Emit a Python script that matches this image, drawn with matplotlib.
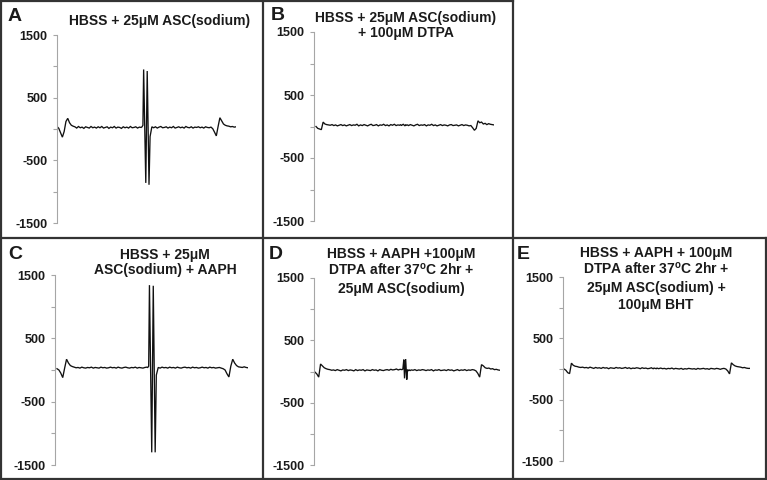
import matplotlib
matplotlib.use('Agg')
import matplotlib.pyplot as plt
from matplotlib.lines import Line2D

plt.rcParams['font.family'] = ['Liberation Sans', 'DejaVu Sans']
plt.rcParams['mathtext.fontset'] = 'custom'
plt.rcParams['mathtext.rm'] = 'Liberation Sans:bold'
plt.rcParams['mathtext.bf'] = 'Liberation Sans:bold'
plt.rcParams['mathtext.it'] = 'Liberation Sans:bold'

# ---------------- data (field position, % of sweep) ----------------
field = [
    0, 1, 2, 3, 4, 5, 6, 7, 8, 9,
    10, 11, 12, 13, 14, 15, 16, 17, 18, 19,
    20, 21, 22, 23, 24, 25, 26, 27, 28, 29,
    30, 31, 32, 33, 34, 35, 36, 37, 38, 39,
    40, 41, 42, 43, 44, 45, 46, 47,
    47.5, 48, 48.4, 49, 49.6, 50, 50.4, 50.9, 51.4,
    52, 53, 54, 55, 56, 57, 58, 59,
    60, 61, 62, 63, 64, 65, 66, 67, 68, 69,
    70, 71, 72, 73, 74, 75, 76, 77, 78, 79,
    80, 81, 82, 83, 84, 85, 86, 87, 88, 89,
    90, 91, 92, 93, 94, 95, 96, 97, 98, 99,
    100,
]

spec_A = [
    40, 10, -60, -130, -40, 120, 170, 100, 60, 45,
    35, 15, 40, 20, 30, 10, 35, 25, 15, 40,
    20, 30, 15, 35, 20, 40, 15, 25, 35, 10,
    30, 20, 40, 15, 30, 25, 10, 35, 20, 30,
    15, 40, 20, 25, 35, 15, 30, 25,
    35, 60, 950, 45, -860, 30, 925, 20, -890,
    -120, 35, 20, 35, 15, 30, 40, 20,
    25, 35, 15, 30, 20, 40, 15, 25, 35, 20,
    30, 15, 40, 25, 20, 35, 15, 30, 25, 35,
    20, 30, 15, 35, 25, 20, 30, 5, -50, -110,
    40, 180, 130, 80, 60, 50, 45, 35, 40, 30,
    35,
]

spec_B = [
    0, -30, -40, -50, 70, 40, 30, 25, 20, 30,
    15, 25, 10, 20, 30, 15, 25, 10, 20, 30,
    15, 25, 20, 35, 10, 25, 15, 30, 20, 10,
    25, 35, 15, 20, 30, 10, 25, 20, 35, 15,
    25, 10, 30, 20, 35, 15, 25, 20,
    30, 15, 25, 35, 20, 10, 30, 20, 25,
    15, 30, 20, 10, 25, 35, 15, 25,
    20, 30, 10, 25, 20, 35, 15, 25, 10, 20,
    30, 15, 25, 20, 10, 25, 30, 15, 20, 25,
    10, 20, 30, 15, 25, 20, 10, 15, -20, -60,
    -30, 90, 60, 70, 40, 50, 30, 45, 35, 30,
    25,
]

spec_C = [
    20, 0, -50, -120, 30, 170, 110, 70, 55, 45,
    35, 40, 30, 45, 35, 30, 40, 35, 45, 30,
    40, 35, 30, 45, 35, 40, 30, 35, 45, 35,
    40, 30, 45, 35, 30, 40, 45, 35, 30, 40,
    35, 45, 30, 40, 35, 30, 40, 45,
    40, 60, 1340, 20, -1300, 15, 1330, 20, -1300,
    -80, 40, 30, 45, 35, 40, 30, 45,
    35, 40, 30, 45, 35, 30, 40, 45, 35, 40,
    30, 45, 35, 40, 30, 35, 45, 35, 40, 30,
    45, 35, 40, 30, 35, 40, 30, 20, 0, -60,
    -110, 60, 170, 110, 70, 50, 45, 40, 50, 40,
    35,
]

spec_D = [
    -10, -40, -90, 120, 90, 60, 45, 35, 30, 20,
    25, 15, 30, 20, 10, 25, 20, 30, 15, 25,
    20, 10, 30, 15, 25, 20, 30, 10, 25, 20,
    15, 30, 20, 25, 10, 30, 20, 15, 25, 30,
    20, 35, 25, 30, 40, 25, 35, 30,
    40, 190, -110, 200, -130, 30, 10, 25, 15,
    25, 20, 30, 15, 25, 20, 30, 25,
    15, 25, 20, 30, 10, 25, 20, 30, 15, 20,
    25, 15, 30, 20, 25, 10, 20, 30, 15, 25,
    20, 30, 15, 25, 20, 30, 25, 10, -30, -90,
    110, 90, 60, 50, 55, 40, 45, 30, 35, 25,
    20,
]

spec_E = [
    0, -20, -60, -75, 95, 60, 45, 40, 30, 25,
    30, 20, 25, 15, 30, 20, 10, 25, 15, 20,
    10, 25, 15, 20, 5, 20, 15, 10, 25, 15,
    20, 10, 15, 25, 10, 20, 5, 15, 10, 20,
    15, 5, 20, 10, 15, 5, 10, 20,
    10, 5, 15, 10, 5, 15, 10, 5, 10,
    15, 5, 10, 0, 10, 5, 15, 0,
    10, 5, 0, 10, -5, 5, 0, 10, 5, 0,
    5, -5, 10, 0, 5, 10, 0, 5, -5, 10,
    5, 0, 10, 5, -5, 5, 10, 0, -30, -80,
    100, 70, 50, 40, 35, 30, 20, 25, 15, 10,
    10,
]

ytick_vals = [-1500, -1000, -500, 0, 500, 1000, 1500]
ytick_labels = ['-1500', '', '-500', '', '500', '', '1500']

letters = ['A', 'B', 'C', 'D', 'E']
titles = [
    ['HBSS + 25μM ASC(sodium)'],
    ['HBSS + 25μM ASC(sodium)', '+ 100μM DTPA'],
    ['HBSS + 25μM', 'ASC(sodium) + AAPH'],
    ['HBSS + AAPH +100μM', r'DTPA after 37$^{o}$C 2hr +', '25μM ASC(sodium)'],
    ['HBSS + AAPH + 100μM', r'DTPA after 37$^{o}$C 2hr +', '25μM ASC(sodium) +', '100μM BHT'],
]
spectra = [spec_A, spec_B, spec_C, spec_D, spec_E]

# ---------------- layout (pixels) ----------------
W, H = 767, 480
fig = plt.figure(figsize=(W / 100, H / 100), dpi=100)

def fx(px):
    return px / W

def fy(py):
    return 1 - py / H

# axis x, data start x, data end x, top (1500), bottom (-1500)
boxes = [
    (57, 57, 236, 35, 223),
    (314, 316, 494, 32, 221),
    (55, 57, 248, 275, 465),
    (314, 315, 500, 278, 465),
    (563, 564, 750, 277, 461),
]
title_cx = [160, 406, 165, 401, 656]
title_baselines = [
    [25],
    [22, 37],
    [259, 274],
    [258, 275, 293],
    [257, 274, 292, 309],
]
letter_pos = [(8, 21), (271, 20), (8, 259), (269, 259), (517, 259)]

axis_gray = '#a6a6a6'

for i in range(5):
    axx, ds, de, t, b = boxes[i]
    ppu = (de - ds) / 100.0
    xlo = -(ds - axx) / ppu
    ax = fig.add_axes([fx(axx), fy(b), (de - axx) / W, (b - t) / H])
    ax.plot(field, spectra[i], color='#111111', lw=0.95, solid_joinstyle='miter')
    ax.set_xlim(xlo, 100)
    ax.set_ylim(-1500, 1500)
    for s in ['top', 'right', 'bottom']:
        ax.spines[s].set_visible(False)
    ax.spines['left'].set_color(axis_gray)
    ax.spines['left'].set_linewidth(0.8)
    ax.set_xticks([])
    ax.set_yticks(ytick_vals)
    ax.set_yticklabels(ytick_labels)
    ax.tick_params(axis='y', direction='out', length=3, width=0.8, color=axis_gray,
                   pad=4, labelsize=9, labelcolor='#1a1a1a')
    for lab in ax.get_yticklabels():
        lab.set_fontweight('bold')
    ax.patch.set_alpha(0)

    for line, yb in zip(titles[i], title_baselines[i]):
        fig.text(fx(title_cx[i]), fy(yb), line, ha='center', va='baseline',
                 fontsize=10, fontweight='bold', color='#1a1a1a')
    lx, ly = letter_pos[i]
    fig.text(fx(lx), fy(ly), letters[i], ha='left', va='baseline',
             fontsize=14, fontweight='bold', color='#1a1a1a')

# ---------------- panel frames ----------------
frame_color = '#333333'
frame_lw = 1.6
segments = [
    ((1, 1), (1, 479)),        # left edge
    ((0, 1), (513, 1)),        # top edge
    ((263, 0), (263, 479)),    # A|B and C|D divider
    ((513, 0), (513, 479)),    # B right edge and D|E divider
    ((0, 238), (766, 238)),    # row divider
    ((766, 238), (766, 479)),  # right edge lower row
    ((0, 479), (767, 479)),    # bottom edge
]
for (x0, y0), (x1, y1) in segments:
    fig.add_artist(Line2D([fx(x0), fx(x1)], [fy(y0), fy(y1)],
                          color=frame_color, lw=frame_lw, transform=fig.transFigure))

fig.savefig('out.png', dpi=100, facecolor='white')
